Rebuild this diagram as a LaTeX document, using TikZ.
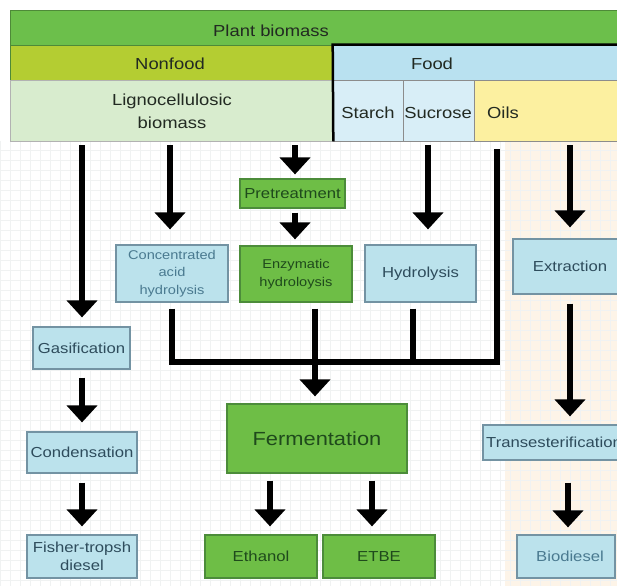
\documentclass[tikz,border=0pt]{standalone}
\usepackage{fontspec}
\setmainfont{Liberation Sans}[FakeStretch=1.15]
\usetikzlibrary{arrows.meta}

\definecolor{plantgreen}{HTML}{6CBF4B}
\definecolor{plantedge}{HTML}{4E8A38}
\definecolor{nonfoodgreen}{HTML}{B4CD32}
\definecolor{foodblue}{HTML}{B9E1F0}
\definecolor{lignogreen}{HTML}{D8ECCE}
\definecolor{paleblue}{HTML}{D8EEF7}
\definecolor{oilyellow}{HTML}{FCF0A0}
\definecolor{boxblue}{HTML}{BBE2EC}
\definecolor{boxblueedge}{HTML}{7393A3}
\definecolor{boxgreen}{HTML}{6EBE46}
\definecolor{boxgreenedge}{HTML}{4C8C3A}
\definecolor{bluetext}{HTML}{2E4C5C}
\definecolor{paletext}{HTML}{4A7A90}
\definecolor{greentext}{HTML}{1F4A1C}
\definecolor{hdrtext}{HTML}{222A22}
\definecolor{peach}{HTML}{FDF4E8}
\definecolor{gridgray}{HTML}{F0F2F2}

\begin{document}
\begin{tikzpicture}[x=1pt,y=-1pt,
  cell/.style={rectangle, inner sep=0pt, draw=black!45, line width=0.6pt},
  hdr/.style={inner sep=0pt, anchor=base, text=hdrtext, font=\fontsize{16}{23}\selectfont, align=center},
  bluebox/.style={rectangle, inner sep=0pt, fill=boxblue, draw=boxblueedge, line width=1.2pt,
    text=bluetext, font=\fontsize{14.5}{18}\selectfont, align=center},
  greenbox/.style={rectangle, inner sep=0pt, fill=boxgreen, draw=boxgreenedge, line width=1.2pt,
    text=greentext, font=\fontsize{14.5}{18}\selectfont, align=center},
  smalltext/.style={font=\fontsize{12.7}{17.5}\selectfont},
  flow/.style={line width=5.5pt, -{Triangle[width=30pt,length=17pt]}},
  bus/.style={line width=5.5pt, line join=miter}]

\useasboundingbox (0,0) rectangle (617,586);

\begin{scope}
\clip (0,0) rectangle (617,586);
\fill[white] (0,0) rectangle (617,586);

% background below the header: faint grid, peach strip for the oils column
\fill[peach] (505,141) rectangle (617,586);
\foreach \gx in {0,10,...,610} \draw[gridgray, line width=0.5pt] (\gx,141) -- (\gx,586);
\foreach \gy in {150,160,...,580} \draw[gridgray, line width=0.5pt] (0,\gy) -- (617,\gy);

% header table
\node[cell, fill=plantgreen, draw=plantedge, minimum width=620, minimum height=35] (plant) at (320,27.5) {};
\node[cell, fill=nonfoodgreen, draw=plantedge, minimum width=323, minimum height=35] (nonfood) at (171.5,62.5) {};
\node[cell, fill=foodblue, minimum width=297, minimum height=35] (food) at (481.5,62.5) {};
\node[cell, fill=lignogreen, draw=black!30, minimum width=323, minimum height=61] (ligno) at (171.5,110.5) {};
\node[cell, fill=paleblue, minimum width=70, minimum height=61] (starch) at (368,110.5) {};
\node[cell, fill=paleblue, minimum width=71, minimum height=61] (sucrose) at (438.5,110.5) {};
\node[cell, fill=oilyellow, minimum width=156, minimum height=61] (oils) at (552,110.5) {};
\draw[line width=2.5pt] (ligno.south east) -- (food.north west) -- (food.north east);

\node[hdr] (plantlbl) at (271,36.5) {Plant biomass};
\node[hdr] (nonfoodlbl) at (170,69) {Nonfood};
\node[hdr] (foodlbl) at (432,69) {Food};
\node[hdr] (lignolbl) at (172,128) {Lignocellulosic\\biomass};
\node[hdr] (starchlbl) at (368,118) {Starch};
\node[hdr] (sucroselbl) at (438,118) {Sucrose};
\node[hdr] (oilslbl) at (503,118) {Oils};

% process boxes
\node[bluebox, minimum width=97, minimum height=42] (gasif) at (81.5,348) {Gasification};
\node[bluebox, minimum width=110, minimum height=41] (cond) at (82,452.5) {Condensation};
\node[bluebox, minimum width=110, minimum height=43] (fisher) at (82,556.5) {Fisher-tropsh\\diesel};
\node[bluebox, smalltext, text=paletext, minimum width=112, minimum height=57] (conc) at (172,273.5) {Concentrated\\acid\\hydrolysis};
\node[greenbox, minimum width=105, minimum height=29] (pretr) at (292.5,193.5) {Pretreatment};
\node[greenbox, smalltext, minimum width=112, minimum height=56] (enzy) at (296,274) {Enzymatic\\hydroloysis};
\node[bluebox, minimum width=111, minimum height=57] (hydro) at (420.5,273.5) {Hydrolysis};
\node[bluebox, minimum width=114, minimum height=55] (extr) at (570,266.5) {Extraction};
\node[bluebox, minimum width=142, minimum height=35] (trans) at (554,442.5) {Transesterification};
\node[bluebox, text=paletext, minimum width=98, minimum height=43] (bio) at (566,556.5) {\hspace*{8pt}Biodiesel};
\node[greenbox, font=\fontsize{19}{23}\selectfont, minimum width=180, minimum height=69] (ferm) at (317,438.5) {Fermentation};
\node[greenbox, minimum width=112, minimum height=43] (eth) at (261,556.5) {Ethanol};
\node[greenbox, minimum width=112, minimum height=43] (etbe) at (379,556.5) {ETBE};

% arrows leaving the header
\coordinate (gasin) at (82,145);
\coordinate (concin) at (170,145);
\coordinate (pretin) at (295,145);
\coordinate (hydin) at (428,145);
\coordinate (sucin) at (497,149);
\coordinate (extin) at (570,145);
\draw[flow, shorten >=9pt] (gasin) -- (gasin |- gasif.north);
\draw[flow, shorten >=15pt] (concin) -- (concin |- conc.north);
\draw[flow, shorten >=4pt] (pretin) -- (pretin |- pretr.north);
\draw[flow, shorten <=4pt, shorten >=6pt] (pretin |- pretr.south) -- (pretin |- enzy.north);
\draw[flow, shorten >=15pt] (hydin) -- (hydin |- hydro.north);
\draw[flow, shorten >=11pt] (extin) -- (extin |- extr.north);

% left column: thermochemical route
\draw[flow, shorten <=8pt, shorten >=9pt] (gasif.south -| gasin) -- (cond.north -| gasin);
\draw[flow, shorten <=9pt, shorten >=8pt] (cond.south -| gasin) -- (fisher.north -| gasin);

% sugars merge into one line feeding fermentation
\coordinate (busend) at (497,362);
\coordinate (hydjoin) at (413,362);
\coordinate (fermjoin) at (315,362);
\draw[bus] ([yshift=-6pt]conc.south) |- (busend) -- (sucin);
\draw[bus, shorten <=6pt] (hydjoin |- hydro.south) -- (hydjoin);
\draw[flow, shorten <=6pt, shorten >=7pt] (fermjoin |- enzy.south) -- (fermjoin |- ferm.north);

% fermentation products
\coordinate (ethx) at (270,0);
\coordinate (etbex) at (372,0);
\draw[flow, shorten <=7pt, shorten >=8pt] (ethx |- ferm.south) -- (ethx |- eth.north);
\draw[flow, shorten <=7pt, shorten >=8pt] (etbex |- ferm.south) -- (etbex |- etbe.north);

% oils route
\coordinate (biox) at (568,0);
\draw[flow, shorten <=9pt, shorten >=8pt] (extr.south -| extin) -- (trans.north -| extin);
\draw[flow, shorten <=22pt, shorten >=7pt] (biox |- trans.south) -- (biox |- bio.north);
\end{scope}
\end{tikzpicture}
\end{document}
